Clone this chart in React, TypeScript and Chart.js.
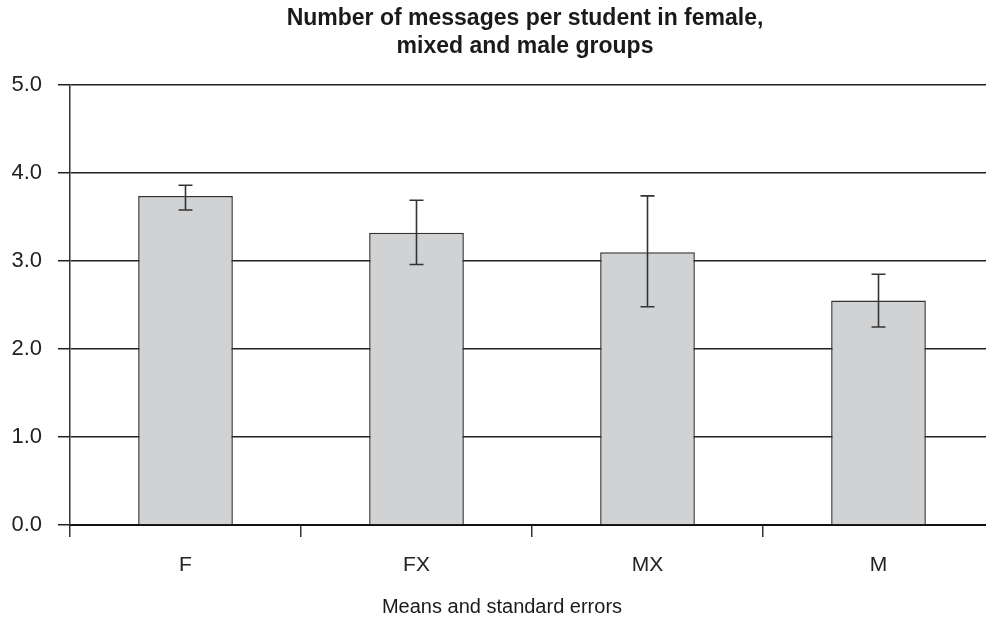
import React, { useEffect, useRef } from "react";
import { Chart, registerables } from "chart.js";

Chart.register(...registerables);

const categories = ["F", "FX", "MX", "M"];
const means = [3.74, 3.32, 3.1, 2.55];
const errLow = [3.58, 2.96, 2.48, 2.25];
const errHigh = [3.86, 3.69, 3.74, 2.85];
const titleLines = ["Number of messages per student in female,", "mixed and male groups"];
const xAxisTitle = "Means and standard errors";

const FONT = "'Liberation Sans', Arial, Helvetica, sans-serif";

const errorBarPlugin = {
  id: "errorBars",
  afterDatasetsDraw(chart: any) {
    const ctx = chart.ctx;
    const meta = chart.getDatasetMeta(0);
    const y = chart.scales.y;
    ctx.save();
    ctx.strokeStyle = "#333";
    ctx.lineWidth = 1.6;
    meta.data.forEach((bar: any, i: number) => {
      const x = bar.x;
      const yl = y.getPixelForValue(errLow[i]);
      const yh = y.getPixelForValue(errHigh[i]);
      ctx.beginPath();
      ctx.moveTo(x, yl);
      ctx.lineTo(x, yh);
      ctx.moveTo(x - 7, yl);
      ctx.lineTo(x + 7, yl);
      ctx.moveTo(x - 7, yh);
      ctx.lineTo(x + 7, yh);
      ctx.stroke();
    });
    ctx.restore();
  },
};

const textPlugin = {
  id: "texts",
  afterDraw(chart: any) {
    const ctx = chart.ctx;
    ctx.save();
    ctx.fillStyle = "#1a1a1a";
    ctx.textAlign = "center";
    ctx.textBaseline = "middle";
    ctx.font = `bold 23px ${FONT}`;
    ctx.fillText(titleLines[0], 525, 19);
    ctx.fillText(titleLines[1], 525, 47);
    ctx.font = `20px ${FONT}`;
    ctx.fillText(xAxisTitle, 502, 607);
    ctx.restore();
  },
};

export default function App() {
  const ref = useRef<HTMLCanvasElement | null>(null);
  useEffect(() => {
    if (!ref.current) return;
    const chart = new Chart(ref.current, {
      type: "bar",
      data: {
        labels: categories,
        datasets: [
          {
            data: means,
            backgroundColor: "#d1d2d4",
            borderColor: "#333",
            borderWidth: 1.5,
            barPercentage: 0.41,
            categoryPercentage: 1,
          },
        ],
      },
      options: {
        animation: false,
        responsive: false,
        devicePixelRatio: 1,
        layout: { padding: { top: 85, right: 6, left: 0, bottom: 0 } },
        plugins: { legend: { display: false }, tooltip: { enabled: false }, title: { display: false } },
        scales: {
          x: {
            offset: true,
            grid: {
              offset: true,
              drawOnChartArea: false,
              drawTicks: true,
              tickLength: 12,
              color: "#333",
              lineWidth: 1.5,
            },
            border: { display: true, color: "#111", width: 2 },
            ticks: { color: "#222", font: { family: FONT, size: 21 }, padding: 16 },
            afterFit: (s: any) => {
              s.height = 99;
            },
          },
          y: {
            min: 0,
            max: 5,
            ticks: {
              stepSize: 1,
              color: "#222",
              font: { family: FONT, size: 22 },
              padding: 16,
              callback: (v: any) => Number(v).toFixed(1),
            },
            grid: { color: "#222", lineWidth: 1.5, tickLength: 12 },
            border: { display: true, color: "#333", width: 1.5 },
            afterFit: (s: any) => {
              s.width = 70;
            },
          },
        },
      },
      plugins: [errorBarPlugin, textPlugin],
    });
    return () => chart.destroy();
  }, []);
  return (
    <div style={{ position: "fixed", left: 0, top: 0, width: 1000, height: 624, background: "#fff" }}>
      <canvas ref={ref} width={1000} height={624} style={{ width: 1000, height: 624 }} />
    </div>
  );
}
